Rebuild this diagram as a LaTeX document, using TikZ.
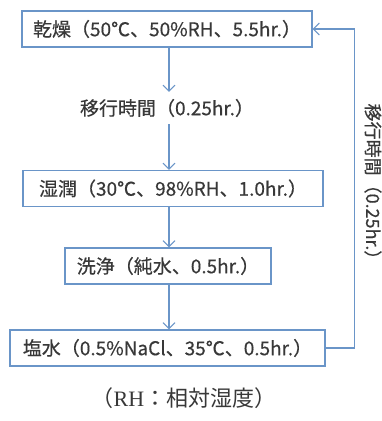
\documentclass[tikz,border=0pt]{standalone}
\usepackage{fontspec}
\newfontfamily\jp[FakeBold=0.4]{Noto Sans CJK JP}
\newfontfamily\jpc{Noto Sans CJK JP}
\newfontfamily\ser{Liberation Serif}
\usetikzlibrary{arrows.meta}
\definecolor{bl}{HTML}{6A95C8}
\definecolor{tx}{HTML}{383838}
\begin{document}
\begin{tikzpicture}[x=1pt,y=-1pt,
 box/.style={draw=bl, line width=1.1pt, fill=white, text=tx, font=\jp\fontsize{19}{21}\selectfont, minimum height=36pt, inner sep=0pt, anchor=center},
 conn/.style={draw=bl, line width=1.1pt},
 tip/.style={-{Straight Barb[length=6pt,width=12pt,line width=1.1pt]}},
 lbl/.style={text=tx, font=\jp\fontsize{19}{21}\selectfont, inner sep=2pt}]
\useasboundingbox[fill=white] (0,0) rectangle (381,421);
\coordinate (cx) at (169,0);
\node[box, minimum width=290pt] (dry) at (167,29) {乾燥（50℃、50\%RH、5.5hr.）};
\node[lbl, outer sep=5pt] (move) at (167,108) {移行時間（0.25hr.）};
\node[box, minimum width=300pt] (wet) at (173,188.5) {湿潤（30℃、98\%RH、1.0hr.）};
\node[box, minimum width=206pt] (wash) at (168,266) {洗浄（純水、0.5hr.）};
\node[box, minimum width=315pt] (salt) at (167.5,348) {塩水（0.5\%NaCl、35℃、0.5hr.）};
\node[lbl, rotate=-90, font=\jp\fontsize{18}{20}\selectfont] (vlabel) at (373,186) {移行時間（0.25hr.）};
\node[text=tx, font=\fontsize{22}{24}\selectfont] (cap) at (184,398) {{\jpc （}{\ser RH}{\jpc ：相対湿度）}};
\draw[conn,tip] (cx |- dry.south) -- (cx |- move.north);
\draw[conn,tip] (cx |- move.south) -- (cx |- wet.north);
\draw[conn,tip] (cx |- wet.south) -- (cx |- wash.north);
\draw[conn,tip] (cx |- wash.south) -- (cx |- salt.north);
\draw[conn,tip] (salt.east) -- ++(29,0) |- (dry.east);
\end{tikzpicture}
\end{document}
